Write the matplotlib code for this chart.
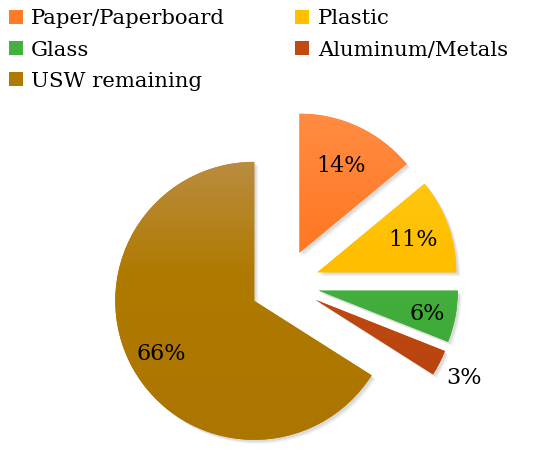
import numpy as np
import matplotlib
matplotlib.use("Agg")
import matplotlib.pyplot as plt
from matplotlib.colors import LinearSegmentedColormap, to_rgb
from matplotlib.patches import Patch, Wedge

categories = ["Paper/Paperboard", "Plastic", "Glass", "Aluminum/Metals", "USW remaining"]
values = [14, 11, 6, 3, 66]
labels = ["14%", "11%", "6%", "3%", "66%"]

top_colors = ["#FF8C42", "#FFCA1E", "#55BD4C", "#CC561E", "#BA8C40"]
mid_colors = ["#FF7B28", "#FFC000", "#45B03E", "#C04A12", "#B07A00"]
bot_colors = ["#FF6A0E", "#FFB800", "#35A530", "#B5400A", "#AC7500"]
base_colors = ["#FF7B28", "#FFC000", "#45B03E", "#C04A12", "#B07A00"]
label_dist = [0.71, 0.73, 0.79, 1.2, 0.76]

plt.rcParams['font.family'] = ['DejaVu Serif']

fig = plt.figure(figsize=(5.5, 4.55), dpi=100)
ax = fig.add_axes([0, 0, 1, 1])

R = 139
center = (284.7, 455 - 284.1)
wedges, _ = ax.pie(values, colors=base_colors, startangle=90, counterclock=False,
                   explode=[0.25 * R] * len(values), radius=R, center=center,
                   wedgeprops=dict(linewidth=0), frame=True)
ax.set_xlim(0, 550)
ax.set_ylim(0, 455)
ax.set_aspect('equal')
ax.axis('off')

# soft shadow
for w in wedges:
    for k, a in [(4, 0.04), (3, 0.05), (2, 0.06)]:
        sh = Wedge((w.center[0] + k, w.center[1] - k), w.r, w.theta1, w.theta2,
                   facecolor='black', alpha=a, linewidth=0, zorder=0.5)
        ax.add_patch(sh)

# gradient fill
for w, tc, mc, bc in zip(wedges, top_colors, mid_colors, bot_colors):
    w.set_zorder(1)
    cmap = LinearSegmentedColormap.from_list(
        "g", [(0.0, to_rgb(bc)), (0.6, to_rgb(mc)), (1.0, to_rgb(tc))])
    grad = np.linspace(0, 1, 256).reshape(-1, 1)
    cx, cy = w.center
    im = ax.imshow(grad, cmap=cmap, origin='lower', aspect='auto',
                   extent=[cx - R, cx + R, cy - R, cy + R], zorder=1.5,
                   interpolation='bilinear')
    im.set_clip_path(w)

ax.set_xlim(0, 550)
ax.set_ylim(0, 455)

# percent labels
for w, lab, d in zip(wedges, labels, label_dist):
    ang = np.deg2rad((w.theta1 + w.theta2) / 2)
    cx, cy = w.center
    ax.text(cx + d * R * np.cos(ang), cy + d * R * np.sin(ang), lab,
            ha='center', va='center_baseline', fontsize=16, color='black', zorder=3)

order = [0, 2, 4, 1, 3]
handles = [Patch(facecolor=base_colors[i], edgecolor='none') for i in order]
leg = fig.legend(handles, [categories[i] for i in order], ncol=2, loc='upper left',
                 bbox_to_anchor=(0.0, 0.998), frameon=False, fontsize=15.3,
                 handlelength=0.66, handleheight=0.66, handletextpad=0.4,
                 columnspacing=3.3, labelspacing=0.57, borderaxespad=0)

fig.savefig("out.png", dpi=100)
